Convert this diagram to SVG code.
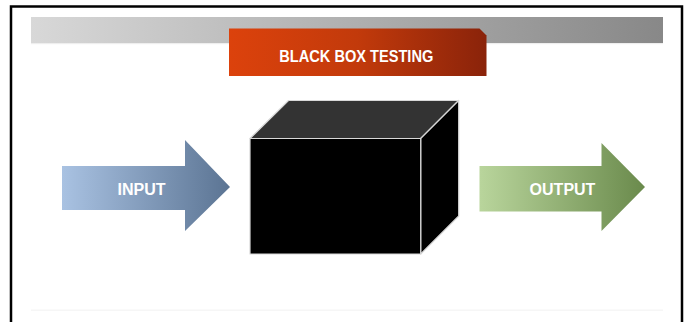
<svg xmlns="http://www.w3.org/2000/svg" width="686" height="322" viewBox="0 0 686 322">
<defs>
<linearGradient id="gGray" x1="0" y1="0" x2="1" y2="0"><stop offset="0" stop-color="#d8d8d8"/><stop offset="1" stop-color="#888888"/></linearGradient>
<linearGradient id="gRed" x1="0" y1="0" x2="1" y2="0"><stop offset="0" stop-color="#dc420c"/><stop offset="0.5" stop-color="#c23a0b"/><stop offset="1" stop-color="#8a230a"/></linearGradient>
<linearGradient id="gBlue" x1="0" y1="0" x2="1" y2="0"><stop offset="0" stop-color="#a9c2e2"/><stop offset="1" stop-color="#5b7493"/></linearGradient>
<linearGradient id="gGreen" x1="0" y1="0" x2="1" y2="0"><stop offset="0" stop-color="#b9d59c"/><stop offset="1" stop-color="#6a8a4c"/></linearGradient>
<style>
.lbl{font-family:"Liberation Sans",Arial,sans-serif;font-weight:bold;fill:#ffffff;text-anchor:middle}
.edge{stroke:#d8d8d8;stroke-width:1.2;stroke-linejoin:round}
</style>
</defs>
<rect width="686" height="322" fill="#ffffff"/>
<path d="M11 322 V6.5 H682 V322" fill="none" stroke="#000" stroke-width="2.5"/>
<rect x="31" y="17" width="632" height="26" fill="url(#gGray)"/>
<rect x="31" y="43" width="632" height="1.2" fill="#eeeeee"/>
<rect x="31" y="309.5" width="632" height="1.5" fill="#f6f6f6"/>
<g id="title">
<path d="M229 28.5 H479.5 L486.5 35.5 V76 H229 Z" fill="url(#gRed)"/>
<text class="lbl" x="356.3" y="61.5" font-size="16" textLength="154" lengthAdjust="spacingAndGlyphs">BLACK BOX TESTING</text>
</g>
<g id="input">
<path d="M62 166 H185 V140 L230 187 L185 231 V210 H62 Z" fill="url(#gBlue)"/>
<text class="lbl" x="141.5" y="195" font-size="16">INPUT</text>
</g>
<g id="blackbox">
<path d="M250 138.5 L288.5 100.5 H458.7 L420.7 138.5 Z" fill="#333333" class="edge"/>
<path d="M420.7 138.5 L458.7 100.5 V216 L420.7 254 Z" fill="#000000" class="edge"/>
<rect x="250" y="138.5" width="170.7" height="115.5" fill="#000000" class="edge"/>
</g>
<g id="output">
<path d="M479.5 166 H601.5 V143 L645 187 L601.5 231 V211.5 H479.5 Z" fill="url(#gGreen)"/>
<text class="lbl" x="562.5" y="195" font-size="16">OUTPUT</text>
</g>
<g id="connectors"></g>
</svg>
